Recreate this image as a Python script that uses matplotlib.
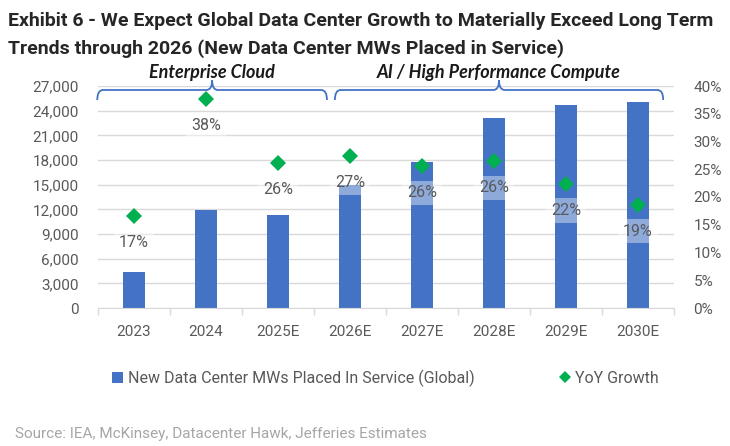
import numpy as np
import matplotlib
matplotlib.use("Agg")
import matplotlib.pyplot as plt
from matplotlib.path import Path
from matplotlib.patches import PathPatch
import matplotlib.transforms as mtransforms

years = ["2023", "2024", "2025E", "2026E", "2027E", "2028E", "2029E", "2030E"]
mw_placed = [4400, 11900, 11300, 14900, 17800, 23100, 24750, 25000]
yoy_growth = [16.6, 37.7, 26.1, 27.3, 25.5, 26.4, 22.3, 18.6]
yoy_labels = ["17%", "38%", "26%", "27%", "26%", "26%", "22%", "19%"]
left_ticks = list(range(0, 27001, 3000))
right_ticks = list(range(0, 41, 5))
groups = [("Enterprise Cloud", -0.51, 2.68), ("AI / High Performance Compute", 2.79, 7.35)]

bar_color = "#4472C4"
green = "#00B050"
tick_grey = "#595959"
grid_grey = "#d9d9d9"
plt.rcParams['font.family'] = ['Roboto', 'DejaVu Sans']

fig = plt.figure(figsize=(7.3, 4.46), dpi=100)
ax = fig.add_axes([98/730, 1 - 308/446, 576/730, 222/446])
ax2 = ax.twinx()

x = np.arange(len(years))
bars = ax.bar(x, mw_placed, width=0.3, color=bar_color, zorder=2,
              label="New Data Center MWs Placed In Service (Global)")
ax.set_xlim(-0.5, len(years) - 0.5)
ax.set_ylim(0, 27000)
ax.set_yticks(left_ticks)
ax.set_yticklabels([f"{v:,}" for v in left_ticks])
ax.set_xticks(x)
ax.set_xticklabels(years)
ax.set_xticks(np.arange(-0.5, len(years)), minor=True)
ax.tick_params(axis='x', which='major', length=0, pad=12, labelsize=11, labelcolor=tick_grey)
ax.tick_params(axis='x', which='minor', length=5, color=grid_grey, width=1)
ax.tick_params(axis='y', length=0, pad=14, labelsize=11, labelcolor=tick_grey)
ax.yaxis.grid(True, color=grid_grey, linewidth=1, zorder=0)
ax.set_axisbelow(True)
for s in ["top", "right", "left"]:
    ax.spines[s].set_visible(False)
ax.spines["bottom"].set_color(grid_grey)

line, = ax2.plot(x, yoy_growth, linestyle='none', marker='D', ms=8.5, mew=0,
                 color=green, label="YoY Growth", zorder=4)
ax2.set_ylim(0, 40)
ax2.set_yticks(right_ticks)
ax2.set_yticklabels([f"{v}%" for v in right_ticks])
ax2.tick_params(axis='y', length=0, pad=14, labelsize=11, labelcolor=tick_grey)
for s in ["top", "right", "left", "bottom"]:
    ax2.spines[s].set_visible(False)

for xi, yi, lab in zip(x, yoy_growth, yoy_labels):
    ax2.annotate(lab, (xi, yi), xytext=(0, -19), textcoords='offset points',
                 ha='center', va='center', fontsize=11.5, color=tick_grey, zorder=5,
                 bbox=dict(boxstyle='square,pad=0.3', fc='white', ec='none', alpha=0.4))

# group braces above the plot
trans = mtransforms.blended_transform_factory(ax.transData, ax.transAxes)
y_top, y_end, y_peak = 0.982, 0.937, 1.025
r = 0.08
for name, x0, x1 in groups:
    xc = (x0 + x1) / 2
    verts = [(x0, y_end), (x0, y_top), (x0 + r, y_top),
             (xc - r, y_top), (xc, y_top), (xc, y_peak),
             (xc, y_peak), (xc, y_top), (xc + r, y_top),
             (x1 - r, y_top), (x1, y_top), (x1, y_end)]
    codes = [Path.MOVETO, Path.CURVE3, Path.CURVE3,
             Path.LINETO, Path.CURVE3, Path.CURVE3,
             Path.MOVETO, Path.CURVE3, Path.CURVE3,
             Path.LINETO, Path.CURVE3, Path.CURVE3]
    patch = PathPatch(Path(verts, codes), fc='none', ec=bar_color, lw=1.3,
                      transform=trans, clip_on=False, zorder=6)
    ax.add_patch(patch)
    ax.text(xc, 1.06, name, transform=trans, ha='center', va='center',
            fontsize=13, fontweight='bold', fontstyle='italic',
            family=['Lato', 'DejaVu Sans'], color='#1a1a1a')

title_font = dict(ha='left', va='center', fontsize=14, fontweight='bold',
                  family=['Roboto', 'DejaVu Sans'], color='#262626')
fig.text(0.011, 0.953, "Exhibit 6 - We Expect Global Data Center Growth to Materially Exceed Long Term",
         **title_font)
fig.text(0.011, 0.892, "Trends through 2026 (New Data Center MWs Placed in Service)",
         **title_font)

leg = fig.legend(handles=[bars, line], loc='center', bbox_to_anchor=(0.528, 0.152),
                 ncol=2, frameon=False, fontsize=11.5, handlelength=0.7, handleheight=0.7,
                 handletextpad=0.3, columnspacing=5.3, labelcolor=tick_grey, markerscale=0.75)

fig.text(0.02, 0.028, "Source: IEA, McKinsey, Datacenter Hawk, Jefferies Estimates",
         ha='left', va='center', fontsize=11, color='#a6a6a6')

fig.savefig("out.png", dpi=100)
